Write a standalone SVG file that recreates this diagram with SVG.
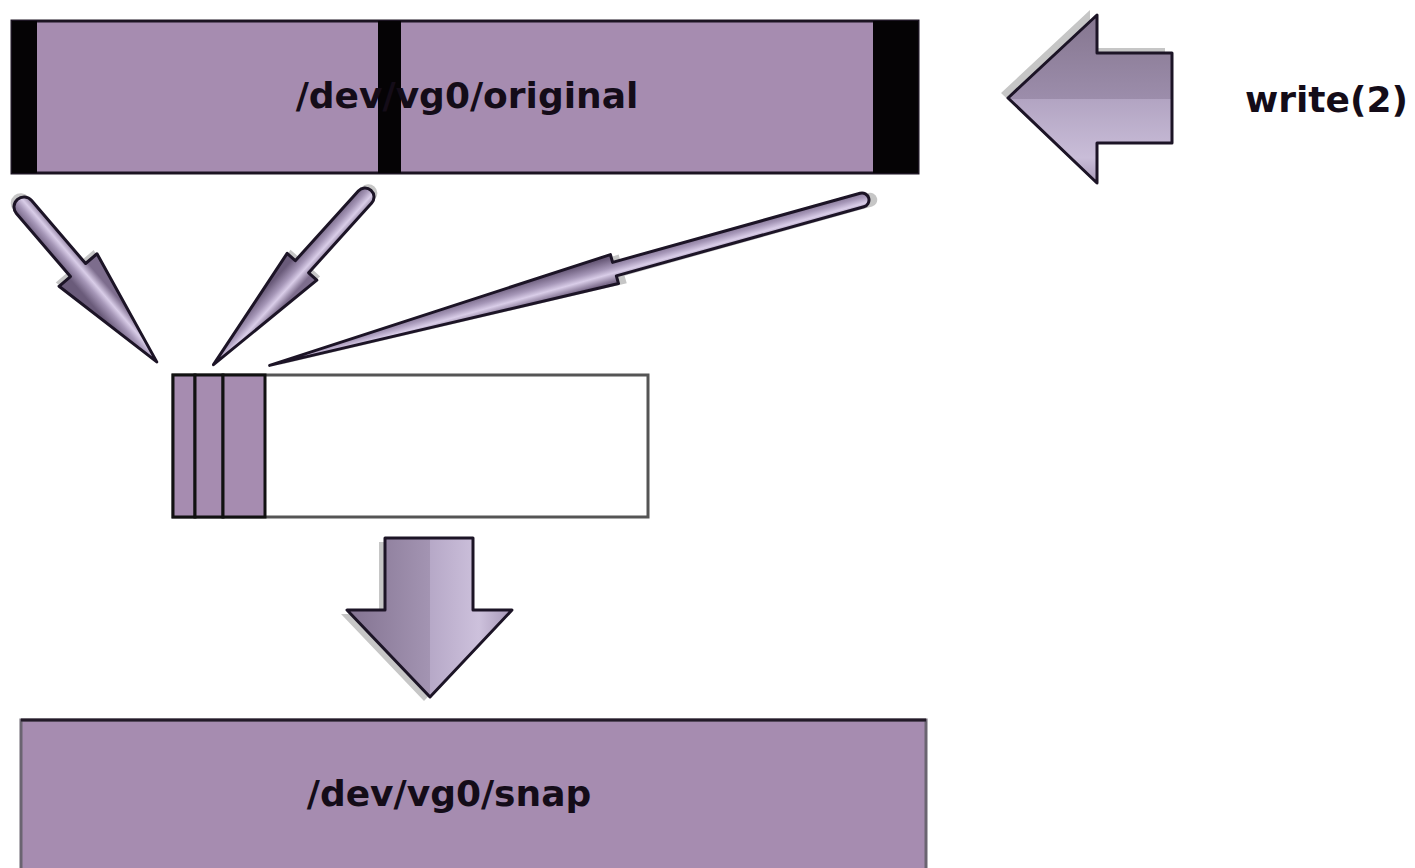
<svg xmlns="http://www.w3.org/2000/svg" width="1415" height="868" viewBox="0 0 1415 868">
<style>
.lbl{font-family:"DejaVu Sans","Liberation Sans",sans-serif;font-weight:bold;font-size:36px;fill:#140c18}
.vol{fill:#a68cb0}
.blk{fill:#050305}
.outl{stroke:#1c1426;stroke-width:3;stroke-linejoin:round}
.shd{fill:#c6c6c6}
</style>
<defs>
<linearGradient id="gDiag" gradientUnits="userSpaceOnUse" x1="0" y1="-12" x2="0" y2="12">
<stop offset="0" stop-color="#7d6d8d"/>
<stop offset="0.35" stop-color="#d9cde8"/>
<stop offset="0.6" stop-color="#a697b8"/>
<stop offset="1" stop-color="#6a5b7a"/>
</linearGradient>
<linearGradient id="gDown" x1="0" y1="0" x2="1" y2="0">
<stop offset="0" stop-color="#837391"/>
<stop offset="0.5" stop-color="#a394b2"/>
<stop offset="0.5" stop-color="#b6a8c7"/>
<stop offset="0.8" stop-color="#cdc1dc"/>
<stop offset="1" stop-color="#a596b6"/>
</linearGradient>
<linearGradient id="gLeft" x1="0" y1="0" x2="0" y2="1">
<stop offset="0" stop-color="#85768f"/>
<stop offset="0.5" stop-color="#9c8dab"/>
<stop offset="0.5" stop-color="#b2a4c2"/>
<stop offset="0.85" stop-color="#c9bdd8"/>
<stop offset="1" stop-color="#a899b8"/>
</linearGradient>
</defs>

<g id="original">
<rect class="vol" x="12" y="21" width="906" height="152" stroke="#1c1422" stroke-width="3"/>
<rect class="blk" x="12" y="21" width="25" height="152"/>
<rect class="blk" x="378" y="21" width="23" height="152"/>
<rect class="blk" x="873" y="21" width="45" height="152"/>
<text class="lbl" x="467" y="108" text-anchor="middle">/dev/vg0/original</text>
</g>

<g id="write">
<path class="shd" d="M1001,93 L1090,10 L1090,48 L1165,48 L1165,138 L1090,138 L1090,178 Z"/>
<path fill="url(#gLeft)" class="outl" stroke-width="4" d="M1008,98 L1097,15 L1097,53 L1172,53 L1172,143 L1097,143 L1097,183 Z"/>
<text class="lbl" x="1245" y="112">write(2)</text>
</g>

<g id="cow-store">
<rect x="173" y="375" width="475" height="142" fill="#fff" stroke="#555" stroke-width="3"/>
<rect class="vol" x="173" y="375" width="22" height="142" stroke="#111" stroke-width="3"/>
<rect class="vol" x="195" y="375" width="28" height="142" stroke="#111" stroke-width="3"/>
<rect class="vol" x="223" y="375" width="42" height="142" stroke="#111" stroke-width="3"/>
</g>

<g id="snap">
<rect class="vol" x="21" y="720" width="905" height="160" stroke="#6a6470" stroke-width="3"/>
<line x1="21" y1="720" x2="926" y2="720" stroke="#231a28" stroke-width="3"/>
<text class="lbl" x="449" y="806" text-anchor="middle">/dev/vg0/snap</text>
</g>

<g id="connectors">
<g transform="translate(24,207) rotate(49.4)">
<path class="shd" transform="translate(-5,0)" d="M0,-10 L83,-10 L83,-25 L204,0 L83,25 L83,10 L0,10 A10,10 0 0 1 0,-10 Z"/>
<path fill="url(#gDiag)" class="outl" d="M0,-10 L83,-10 L83,-25 L204,0 L83,25 L83,10 L0,10 A10,10 0 0 1 0,-10 Z"/>
</g>
<g transform="translate(365,197) rotate(132.1)">
<path class="shd" transform="translate(-5,0)" d="M0,-9 L94,-9 L94,-20 L226,0 L94,20 L94,9 L0,9 A9,9 0 0 1 0,-9 Z"/>
<path fill="url(#gDiag)" class="outl" d="M0,-9 L94,-9 L94,-20 L226,0 L94,20 L94,9 L0,9 A9,9 0 0 1 0,-9 Z"/>
</g>
<g transform="translate(862,200) rotate(164.4)">
<path class="shd" transform="translate(-8,-2)" d="M0,-7 L257,-7 L257,-15 L615,0 L257,15 L257,7 L0,7 A7,7 0 0 1 0,-7 Z"/>
<path fill="url(#gDiag)" class="outl" d="M0,-7 L257,-7 L257,-15 L615,0 L257,15 L257,7 L0,7 A7,7 0 0 1 0,-7 Z"/>
</g>
<g>
<path class="shd" d="M379,542 L467,542 L467,614 L506,614 L424,701 L341,614 L379,614 Z"/>
<path fill="url(#gDown)" class="outl" stroke-width="4" d="M385,538 L473,538 L473,610 L512,610 L430,697 L347,610 L385,610 Z"/>
</g>
</g>
</svg>
